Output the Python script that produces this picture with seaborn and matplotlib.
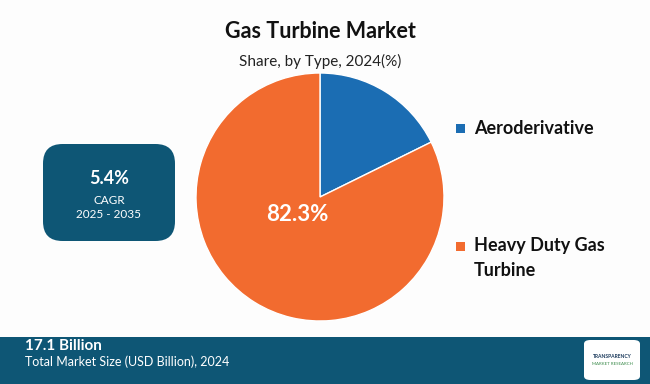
import matplotlib
matplotlib.use("Agg")
import matplotlib.pyplot as plt
from matplotlib.patches import FancyBboxPatch, Rectangle
import seaborn as sns

categories = ["Aeroderivative", "Heavy Duty Gas Turbine"]
legend_lines = [["Aeroderivative"], ["Heavy Duty Gas", "Turbine"]]
shares = [17.7, 82.3]
colors = ["#1b6db3", "#f26b2f"]
title = "Gas Turbine Market"
subtitle = "Share, by Type, 2024(%)"
cagr = "5.4%"
cagr_period = "2025 - 2035"
market_size = "17.1 Billion"
market_label = "Total Market Size (USD Billion), 2024"

sns.set_theme(style="white")
plt.rcParams['font.family'] = ['Lato', 'DejaVu Sans']

W, H = 650, 384
fig = plt.figure(figsize=(6.5, 3.84), dpi=100, facecolor="#fdfdfd")

def fx(x): return x / W
def fy(y): return 1 - y / H

teal = "#0e5675"

# Title
fig.text(fx(320), fy(32), title, ha="center", va="center", fontsize=15.5, fontweight="bold", color="#111111")
fig.text(fx(320), fy(61), subtitle, ha="center", va="center", fontsize=11, color="#222222")

# Pie
cx, cy, r = 320, 197, 124
ax = fig.add_axes([fx(cx - r), fy(cy + r), 2 * r / W, 2 * r / H])
wedges, _ = ax.pie(shares, colors=colors, startangle=90, counterclock=False,
                   wedgeprops=dict(edgecolor="white", linewidth=1.0))
ax.set_xlim(-1.0, 1.0); ax.set_ylim(-1.0, 1.0)
ax.set_aspect("equal")
ax.axis("off")
ax.text(-0.185, -0.14, f"{shares[1]}%", ha="center", va="center", fontsize=16,
        fontweight="bold", color="white")

# Legend
first_y = [128, 246]
for i, lines in enumerate(legend_lines):
    y0 = first_y[i]
    fig.patches.append(Rectangle((fx(456), fy(y0 + 5)), 9 / W, 9 / H, transform=fig.transFigure,
                                 facecolor=colors[i], edgecolor="none"))
    for j, line in enumerate(lines):
        fig.text(fx(474), fy(y0 + 24 * j), line, ha="left", va="center", fontsize=13,
                 fontweight="bold", color="#111111")

# CAGR box
box = FancyBboxPatch((fx(43), fy(241)), (175 - 43) / W, (241 - 144) / H,
                     boxstyle="round,pad=0,rounding_size=0.03", transform=fig.transFigure,
                     facecolor=teal, edgecolor="none", mutation_aspect=W / H)
fig.patches.append(box)
fig.text(fx(109), fy(178), cagr, ha="center", va="center", fontsize=13, fontweight="bold", color="white")
fig.text(fx(109), fy(200), "CAGR", ha="center", va="center", fontsize=8.5, color="white")
fig.text(fx(109), fy(214), cagr_period, ha="center", va="center", fontsize=8.5, color="white")

# Bottom band
fig.patches.append(Rectangle((0, 0), 1, fy(337), transform=fig.transFigure,
                             facecolor=teal, edgecolor="none"))
fig.text(fx(25), fy(346), market_size, ha="left", va="center", fontsize=11, fontweight="bold", color="white")
fig.text(fx(25), fy(362), market_label, ha="left", va="center", fontsize=9, color="white")

# Logo
logo = FancyBboxPatch((fx(584), fy(380)), 56 / W, 40 / H,
                      boxstyle="round,pad=0,rounding_size=0.01", transform=fig.transFigure,
                      facecolor="white", edgecolor="none")
fig.patches.append(logo)
fig.text(fx(612), fy(357), "TRANSPARENCY", ha="center", va="center", fontsize=3.6,
         fontweight="bold", color="#1b3a5c")
fig.text(fx(612), fy(364), "MARKET RESEARCH", ha="center", va="center", fontsize=3.2,
         color="#3a8a4a")

fig.savefig("out.png", dpi=100, facecolor=fig.get_facecolor())
